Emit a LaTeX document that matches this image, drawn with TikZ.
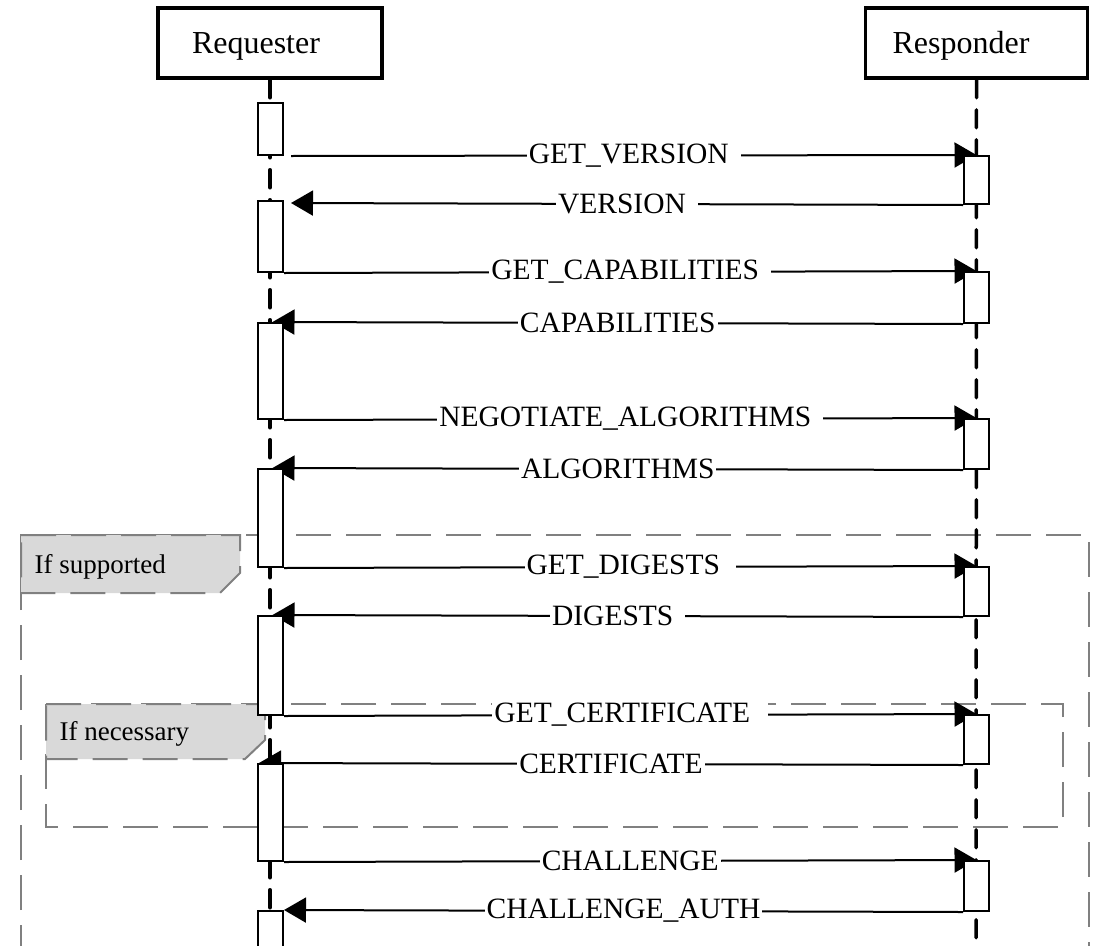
\documentclass[tikz,border=0pt]{standalone}
\usepackage{fontspec}
\setmainfont{Liberation Serif}
\usetikzlibrary{arrows.meta}
\pgfdeclarelayer{bg}
\pgfsetlayers{bg,main}

\begin{document}
\begin{tikzpicture}[x=1pt,y=-1pt,>={Triangle[length=22pt,width=25pt]},
  actor/.style={draw,line width=3.5pt,minimum height=70pt,inner sep=0pt},
  actorname/.style={anchor=base,font=\fontsize{32}{34}\selectfont},
  lifeline/.style={line width=3.5pt,dash pattern=on 18pt off 12pt,line cap=round},
  actbox/.style={draw,fill=white,line width=2pt,minimum width=25pt,inner sep=0pt,anchor=north},
  msg/.style={line width=2pt},
  msglabel/.style={fill=white,inner xsep=2pt,inner ysep=0pt,font=\fontsize{29.5}{31}\selectfont},
  frame/.style={draw=gray,line width=2pt,dash pattern=on 35pt off 15pt},
  tab/.style={frame,fill=gray!30},
  tablabel/.style={anchor=base west,font=\fontsize{27}{29}\selectfont}]
  \useasboundingbox (0,0) rectangle (1094,945);

  % actors
  \node[actor,minimum width=224pt] (req) at (270,43) {};
  \node[actor,minimum width=222pt] (resp) at (976.5,43) {};
  \node[actorname] (reqname) at (256,53) {Requester};
  \node[actorname] (respname) at (961,53) {Responder};
  \coordinate (reqend) at (270,960);
  \coordinate (respend) at (976,960);

  % activation boxes, requester side
  \foreach \n/\t/\h in {1/102/52, 2/200/71, 3/322/96, 4/468/98,
                        5/615/99, 6/763/97, 7/910/60}
    \node[actbox,minimum height=\h pt] (r\n) at (270.5,\t) {};
  % activation boxes, responder side
  \foreach \n/\t/\h in {1/155/48, 2/271/51, 3/418/50, 4/566/49,
                        5/714/49, 6/860/50}
    \node[actbox,minimum height=\h pt] (s\n) at (976.5,\t) {};

  \begin{pgfonlayer}{bg}
    % fragments
    \draw[frame] (21,960) -- (21,535) -- (1089,535) -- (1089,960);
    \draw[tab] (21,535) -- (240,535) -- (240,573) -- (220,593) -- (21,593) -- cycle;
    \node[tablabel] (ifsup) at (31,573) {If supported};
    \draw[frame] (46,704) rectangle (1063,827);
    \draw[tab] (46,704) -- (265,704) -- (265,740) -- (245,759) -- (46,759) -- cycle;
    \node[tablabel] (ifnec) at (56,740) {If necessary};

    % lifelines
    \draw[lifeline] (req.south) -- (reqend);
    \draw[lifeline] (resp.south) -- (respend);

    % messages
    \draw[msg,->] ([xshift=7pt]r1.south east) -- (s1.north)
         node[msglabel,midway] (m1) {GET\_VERSION\kern10pt};
    \draw[msg,->] (s1.south west) -- ([shift={(7,3)}]r2.north east)
         node[msglabel,midway] (m2) {VERSION\kern10pt};
    \draw[msg,->] (r2.south east) -- (s2.north)
         node[msglabel,midway] (m3) {GET\_CAPABILITIES\kern10pt};
    \draw[msg,->] (s2.south west) -- ([xshift=2pt]r3.north)
         node[msglabel,midway] (m4) {CAPABILITIES};
    \draw[msg,->] (r3.south east) -- (s3.north)
         node[msglabel,midway] (m5) {NEGOTIATE\_ALGORITHMS\kern10pt};
    \draw[msg,->] (s3.south west) -- ([xshift=2pt]r4.north)
         node[msglabel,midway] (m6) {ALGORITHMS};
    \draw[msg,->] (r4.south east) -- (s4.north)
         node[msglabel,midway] (m7) {GET\_DIGESTS\kern14pt};
    \draw[msg,->] (s4.south west) -- ([xshift=2pt]r5.north)
         node[msglabel,midway] (m8) {DIGESTS\kern10pt};
    \draw[msg,->] (r5.south east) -- (s5.north)
         node[msglabel,midway] (m9) {GET\_CERTIFICATE\kern16pt};
    \draw[msg,->] (s5.south west) -- ([xshift=2pt]r6.north west)
         node[msglabel,midway] (m10) {CERTIFICATE};
    \draw[msg,->] (r6.south east) -- (s6.north)
         node[msglabel,midway] (m11) {CHALLENGE};
    \draw[msg,->] (s6.south west) -- (r7.north east)
         node[msglabel,midway] (m12) {CHALLENGE\_AUTH};
  \end{pgfonlayer}
\end{tikzpicture}
\end{document}
